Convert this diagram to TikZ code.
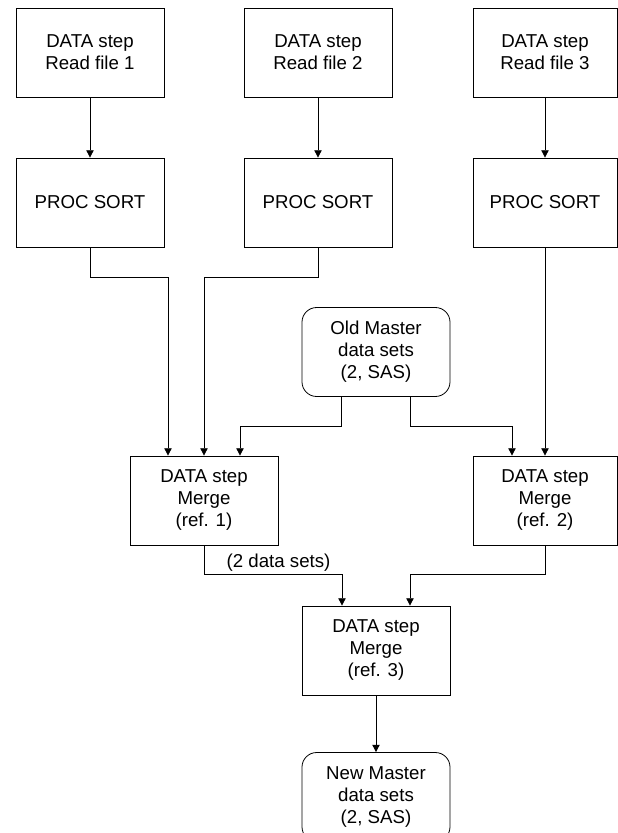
\documentclass[tikz,border=0pt]{standalone}
\usepackage{fontspec}
\setmainfont{Liberation Sans}
\usetikzlibrary{arrows.meta}

\begin{document}
\begin{tikzpicture}[x=0.75pt, y=-0.75pt, line width=0.6pt,
		>={Triangle[length=5.5pt,width=5.5pt]},
		txt/.style={font=\fontsize{14}{16.5}\selectfont, align=center},
		box/.style={txt, draw, inner sep=0pt, minimum width=111pt, minimum height=66.75pt},
		dset/.style={box, rounded corners=11pt}]
	\useasboundingbox (0,0) rectangle (618,833);
		% read and sort, one column per input file
		\node[box] (rd1) at (90,52.5) {DATA step\\Read file 1} ;
		\node[box] (rd2) at (318,52.5) {DATA step\\Read file 2} ;
		\node[box, minimum width=108pt] (rd3) at (545,52.5) {DATA step\\Read file 3} ;
		\node[box] (srt1) at (90,202.5) {PROC SORT} ;
		\node[box] (srt2) at (318,202.5) {PROC SORT} ;
		\node[box, minimum width=108pt] (srt3) at (545,202.5) {PROC SORT} ;
		% master data and merges
		\node[dset] (old) at (376,352) {Old Master\\data sets\\(2, SAS)} ;
		\node[box] (mg1) at (204,500.5) {DATA step\\Merge\\(ref. 1)} ;
		\node[box, minimum width=108pt] (mg2) at (545,500.5) {DATA step\\Merge\\(ref. 2)} ;
		\node[box] (mg3) at (376,650.5) {DATA step\\Merge\\(ref. 3)} ;
		\node[dset] (new) at (376,797) {New Master\\data sets\\(2, SAS)} ;
		% bends
		\coordinate (j1) at (168,277) ;
		\coordinate (j2) at (204,277) ;
		\coordinate (o1) at (341,426) ;
		\coordinate (o2) at (410,426) ;
		\coordinate (k1) at (240,426) ;
		\coordinate (k2) at (512,426) ;
		\coordinate (m1) at (342,574) ;
		\coordinate (m2) at (410,574) ;
	\draw[->] (rd1) -- (srt1) ;
	\draw[->] (rd2) -- (srt2) ;
	\draw[->] (rd3) -- (srt3) ;
	\draw[->] (srt1.south) |- (j1) -- (j1 |- mg1.north) ;
	\draw[->] (srt2.south) |- (j2) -- (j2 |- mg1.north) ;
	\draw[->] (srt3) -- (mg2) ;
	\draw[->] (o1 |- old.south) -- (o1) -- (k1) -- (k1 |- mg1.north) ;
	\draw[->] (o2 |- old.south) -- (o2) -- (k2) -- (k2 |- mg2.north) ;
	\draw[->] (mg1.south) |- node[txt, above, pos=.77, inner sep=2pt] (lbl) {(2 data sets)} (m1) -- (m1 |- mg3.north) ;
	\draw[->] (mg2.south) |- (m2) -- (m2 |- mg3.north) ;
	\draw[->] (mg3) -- (new) ;
\end{tikzpicture}
\end{document}
